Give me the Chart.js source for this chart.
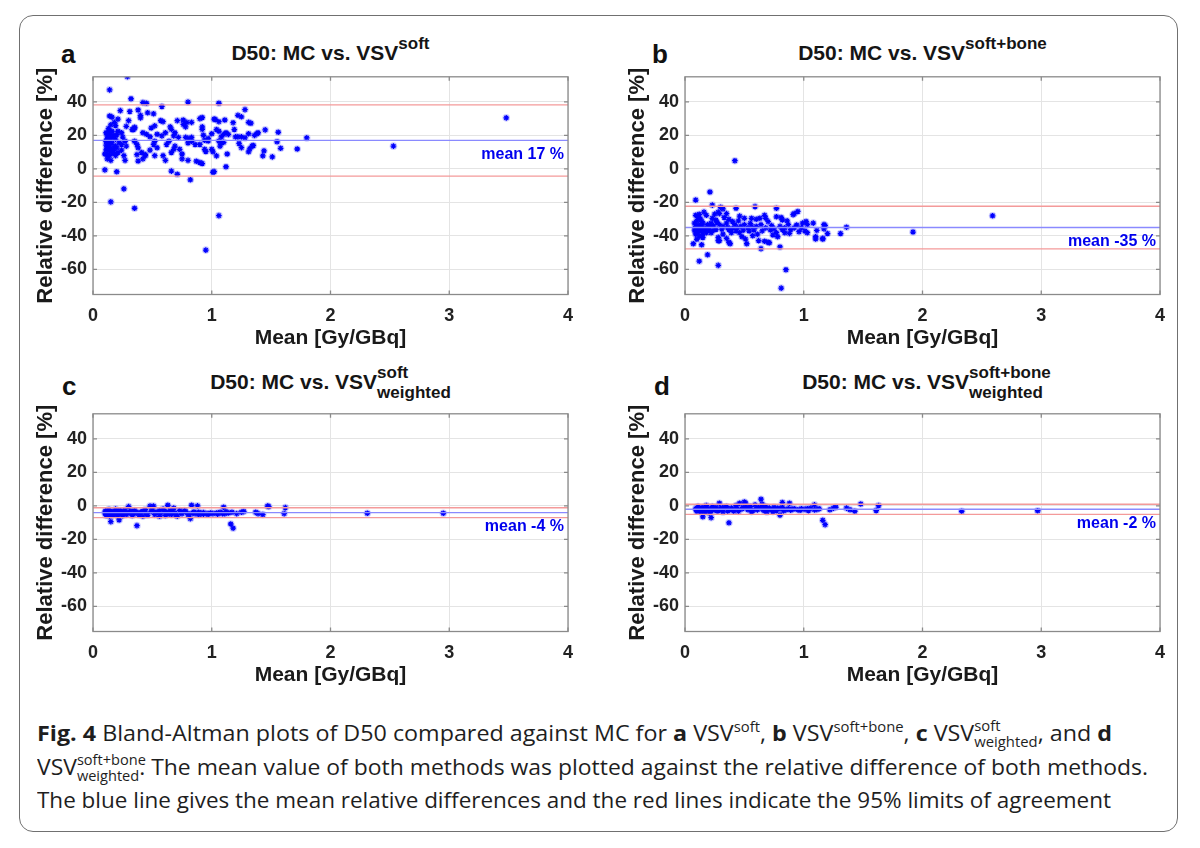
<!DOCTYPE html>
<html>
<head>
<meta charset="utf-8">
<script src="https://cdn.jsdelivr.net/npm/chart.js@4.4.1/dist/chart.umd.min.js"></script>
<style>
body{margin:0;background:#fff;width:1200px;height:848px;position:relative;overflow:hidden;font-family:"Liberation Sans",Arial,sans-serif}
.frame{position:absolute;left:19px;top:15px;width:1157px;height:815px;border:1.5px solid #707070;border-radius:14px}
canvas{position:absolute}
.ttl{position:absolute;width:475px;text-align:center;font-weight:bold;font-size:21px;line-height:24px;white-space:nowrap;color:#151515}
.ttl .sp{font-size:17px;position:relative;top:-11px}
.ttl .st{display:inline-block;position:relative;text-align:left}
.ttl .st .w{font-size:17px;position:relative;top:9px}
.ttl .st .s{font-size:17px;position:absolute;left:0;top:-9.5px}
.lt{position:absolute;font-weight:bold;font-size:26px;line-height:30px;color:#111}
.cl{position:absolute;left:37px;white-space:nowrap;font-family:"Open Sans",sans-serif;font-size:22px;line-height:30px;color:#1e1e1e;transform-origin:0 0}
.cl sup{font-size:14px;vertical-align:0;position:relative;top:-9px}
.cl .st{display:inline-block;position:relative}
.cl .st .w{font-size:14px;position:relative;top:6px}
.cl .st .s{font-size:14px;position:absolute;left:0;top:-6px}
</style>
</head>
<body>
<div class="frame"></div>

<div class="lt" style="left:61px;top:39px">a</div>
<div class="lt" style="left:652px;top:39px">b</div>
<div class="lt" style="left:62px;top:371px">c</div>
<div class="lt" style="left:654px;top:371px">d</div>

<div class="ttl" style="left:93px;top:41px">D50: MC vs. VSV<span class="sp">soft</span></div>
<div class="ttl" style="left:685px;top:41px">D50: MC vs. VSV<span class="sp">soft+bone</span></div>
<div class="ttl" style="left:93px;top:370px">D50: MC vs. VSV<span class="st"><span class="s">soft</span><span class="w">weighted</span></span></div>
<div class="ttl" style="left:685px;top:370px">D50: MC vs. VSV<span class="st"><span class="s">soft+bone</span><span class="w">weighted</span></span></div>

<canvas id="cA" width="570" height="300" style="left:20px;top:60px"></canvas>
<canvas id="cB" width="570" height="300" style="left:612px;top:60px"></canvas>
<canvas id="cC" width="570" height="300" style="left:20px;top:397px"></canvas>
<canvas id="cD" width="570" height="300" style="left:612px;top:397px"></canvas>

<div class="cl" data-w="1075" style="top:717px"><b>Fig. 4</b> Bland-Altman plots of D50 compared against MC for <b>a</b> VSV<sup>soft</sup>, <b>b</b> VSV<sup>soft+bone</sup>, <b>c</b> VSV<span class="st"><span class="s">soft</span><span class="w">weighted</span></span>, and <b>d</b></div>
<div class="cl" data-w="1111" style="top:751px">VSV<span class="st"><span class="s">soft+bone</span><span class="w">weighted</span></span>. The mean value of both methods was plotted against the relative difference of both methods.</div>
<div class="cl" data-w="1074" style="top:784px">The blue line gives the mean relative differences and the red lines indicate the 95% limits of agreement</div>

<script>
// axes
const xTicks = [0, 1, 2, 3, 4];
const yTicks = [-60, -40, -20, 0, 20, 40];
const yMin = -75, yMax = 55;

// mean and 95% limits of agreement per panel
const meanA = 17, loaA = [-4.3, 38.2];
const meanB = -35, loaB = [-47.7, -22.3];
const meanC = -4, loaC = [-7.0, -1.1];
const meanD = -2, loaD = [-5.1, 1.0];

// a: VSV soft  [mean Gy/GBq, relative difference %]
const ptsA = [
  [0.29,55.1],[0.14,47.2],[0.32,41.9],[0.42,39.6],[0.45,39.2],[0.80,39.9],[0.58,37.3],[0.23,34.8],[0.31,34.3],[0.38,35.2],
  [0.46,33.5],[0.51,32.9],[0.92,30.7],[0.90,30.0],[0.14,31.6],[0.16,30.9],[0.21,29.7],[0.40,32.0],[0.40,30.5],[0.57,28.9],
  [0.59,28.2],[0.71,28.8],[0.76,29.2],[0.79,27.8],[0.83,27.8],[0.76,26.6],[0.78,25.1],[1.02,29.7],[0.28,25.4],[0.30,28.8],
  [0.18,27.8],[0.19,25.9],[0.35,24.8],[0.34,23.5],[0.49,24.4],[0.52,25.7],[0.65,25.1],[0.66,23.6],[0.92,25.1],[0.92,23.6],
  [0.11,21.6],[0.12,19.7],[0.14,20.7],[0.16,22.5],[0.21,22.5],[0.24,21.6],[0.33,23.5],[0.35,24.4],[0.42,21.6],[0.45,20.7],
  [0.48,19.2],[0.54,20.7],[0.58,19.7],[0.61,21.6],[0.68,19.7],[0.69,21.6],[0.72,18.8],[0.78,18.8],[0.80,18.2],[0.83,18.8],
  [0.93,20.1],[0.97,18.2],[0.11,16.5],[0.13,14.6],[0.14,17.4],[0.16,15.5],[0.19,13.6],[0.12,11.7],[0.14,10.8],[0.17,9.8],
  [0.20,12.6],[0.24,14.6],[0.27,16.5],[0.28,13.6],[0.35,16.5],[0.37,14.6],[0.38,12.6],[0.41,9.8],[0.44,8.5],[0.48,11.2],
  [0.51,14.6],[0.52,16.5],[0.54,12.6],[0.62,14.6],[0.64,16.5],[0.66,9.8],[0.68,11.7],[0.69,13.6],[0.73,11.7],[0.75,8.9],
  [0.75,6.0],[0.80,15.5],[0.83,16.5],[0.86,14.6],[0.90,14.6],[0.94,11.7],[0.95,10.4],[1.00,11.7],[0.10,8.9],[0.12,6.0],
  [0.14,7.9],[0.15,5.1],[0.19,7.9],[0.21,9.8],[0.24,11.2],[0.26,7.9],[0.27,5.1],[0.37,8.5],[0.38,4.7],[0.42,6.0],
  [0.44,7.9],[0.66,-1.3],[0.71,-3.2],[0.52,7.9],[0.59,7.9],[0.61,5.1],[0.80,5.1],[0.87,4.6],[0.90,3.8],[0.92,3.2],
  [0.10,-0.6],[0.20,-1.7],[0.82,-6.5],[0.26,-11.9],[0.15,-19.7],[0.35,-23.5],[0.95,-48.5],[1.01,-2.0],
  [1.06,39.2],[1.28,35.4],[1.22,32.0],[1.25,31.1],[1.03,29.5],[1.06,28.2],[1.11,29.2],[1.18,27.6],[1.31,27.8],[1.33,27.3],
  [1.04,23.5],[1.06,22.5],[1.08,19.1],[1.10,20.6],[1.12,21.6],[1.14,20.6],[1.00,21.0],[1.19,23.5],[1.20,19.1],[1.22,19.1],
  [1.25,19.1],[1.28,18.5],[1.31,21.0],[1.36,20.0],[1.38,21.0],[1.39,21.6],[1.45,23.3],[1.56,21.9],[1.80,18.5],[0.94,17.1],
  [0.97,16.7],[1.01,10.2],[1.06,16.6],[1.07,13.6],[1.08,15.5],[1.10,15.9],[1.23,15.2],[1.25,12.7],[1.31,10.2],[1.32,12.0],
  [1.34,13.6],[1.35,14.0],[1.44,10.8],[1.43,7.8],[1.51,7.2],[1.55,16.2],[1.58,12.3],[1.72,11.9],[1.04,7.8],[1.13,8.9],
  [1.12,1.3],[1.02,-1.6],[1.06,-27.9],[2.53,13.6],[3.48,30.5],
  [0.12,18.0],[0.13,13.2],[0.14,22.8],[0.15,12.4],[0.16,18.6],[0.17,20.2],[0.12,8.6],[0.13,24.1],[0.11,14.2],[0.18,13.0],
  [0.15,26.3],[0.17,11.0],[0.13,16.1],[0.16,9.4],[0.19,17.8],[0.20,20.5],[0.22,15.6],[0.25,19.0],[0.11,11.4],[0.14,14.8]
];

// b: VSV soft+bone
const ptsB = [
  [0.42,4.9],[0.21,-13.8],[0.09,-18.6],[0.23,-21.6],[0.59,-22.5],[0.77,-23.5],[0.43,-23.5],[0.30,-22.9],[0.32,-23.9],[0.95,-25.4],
  [0.91,-27.3],[0.92,-26.7],[0.28,-25.8],[0.29,-26.7],[0.35,-26.7],[0.16,-25.8],[0.18,-27.7],[0.09,-27.7],[0.11,-29.0],[0.12,-27.1],
  [0.46,-28.2],[0.50,-29.5],[0.67,-27.7],[0.68,-29.5],[0.77,-28.6],[0.81,-29.0],[0.82,-30.5],[0.56,-29.5],[0.60,-30.1],[0.63,-29.5],
  [0.23,-29.5],[0.26,-30.5],[0.37,-30.1],[0.40,-31.4],[0.99,-32.4],[1.02,-31.4],[1.03,-33.3],[1.08,-32.4],[0.14,-31.4],[0.15,-32.4],
  [0.08,-32.4],[0.19,-33.3],[0.21,-34.3],[0.22,-32.4],[0.29,-33.3],[0.32,-34.3],[0.35,-32.4],[0.42,-33.3],[0.44,-35.2],[0.47,-34.3],
  [0.50,-33.3],[0.53,-35.2],[0.56,-34.3],[0.60,-34.3],[0.64,-33.3],[0.68,-35.2],[0.73,-33.9],[0.75,-35.8],[0.80,-34.3],[0.84,-35.2],
  [0.87,-33.3],[0.89,-36.2],[0.92,-35.2],[0.98,-35.2],[1.01,-37.1],[1.03,-38.1],[1.10,-40.5],[1.10,-41.9],[1.16,-41.9],[0.09,-34.3],
  [0.10,-36.2],[0.11,-38.1],[0.12,-35.2],[0.14,-37.1],[0.08,-36.6],[0.09,-39.0],[0.15,-39.0],[0.16,-36.2],[0.18,-38.1],[0.22,-38.1],
  [0.23,-37.1],[0.26,-36.2],[0.28,-40.9],[0.28,-42.8],[0.32,-39.0],[0.35,-41.5],[0.37,-36.2],[0.39,-38.1],[0.43,-37.1],[0.46,-38.1],
  [0.49,-36.6],[0.51,-41.9],[0.52,-44.7],[0.54,-37.1],[0.57,-39.9],[0.61,-39.0],[0.62,-42.8],[0.64,-47.6],[0.67,-43.2],[0.70,-43.8],
  [0.71,-44.1],[0.74,-39.5],[0.77,-38.1],[0.80,-46.6],[0.82,-36.2],[0.84,-38.1],[0.85,-60.2],[0.81,-71.2],[0.07,-44.7],[0.14,-45.3],
  [0.12,-55.1],[0.19,-51.3],[0.28,-57.6],[0.29,-42.8],[0.37,-43.8],[0.38,-44.7],[1.11,-36.7],[1.18,-33.9],[1.17,-33.3],[1.17,-35.8],
  [1.20,-38.6],[1.16,-41.5],[1.31,-38.6],[1.36,-34.8],[1.92,-37.7],[2.59,-28.0],
  [0.10,-31.0],[0.11,-33.5],[0.12,-40.2],[0.13,-36.0],[0.14,-34.0],[0.15,-41.0],[0.09,-37.5],[0.10,-42.0],[0.13,-29.8],[0.17,-35.5],
  [0.20,-36.5],[0.24,-34.0],[0.25,-27.0],[0.27,-32.0],[0.31,-36.0],[0.33,-29.0],[0.36,-35.0],[0.40,-35.5],[0.45,-31.0],[0.48,-40.5],
  [0.55,-32.5],[0.58,-36.5],[0.65,-37.0],[0.70,-31.5],[0.72,-36.5],[0.78,-40.5],[0.86,-31.0],[0.88,-38.5],[0.94,-33.5],[0.96,-37.5]
];

// c: VSV soft, weighted
const ptsC = [
  [1.47,-0.1],[1.48,-0.4],[1.62,-1.0],[1.61,-4.6],[1.16,-10.8],[1.18,-13.3],[0.37,-11.8],[0.15,-9.4],[0.22,-8.4],[0.63,0.4],
  [0.83,0.4],[0.88,0.0],[1.10,-0.8],[1.37,-3.8],[1.39,-4.6],[1.43,-5.2],[1.25,-3.8],[1.27,-3.3],[1.21,-4.6],
  [0.10,-4.2],[0.11,-5.7],[0.12,-2.7],[0.13,-4.6],[0.14,-6.1],[0.16,-3.3],[0.17,-5.2],[0.19,-1.9],[0.20,-3.8],[0.21,-6.1],
  [0.23,-2.7],[0.24,-4.6],[0.26,-3.3],[0.28,-5.2],[0.30,-0.4],[0.31,-3.8],[0.33,-5.7],[0.35,-2.7],[0.38,-4.6],[0.40,-3.8],
  [0.42,-6.1],[0.44,-2.3],[0.45,-4.6],[0.48,-0.1],[0.49,-3.3],[0.51,-0.1],[0.52,-5.2],[0.54,-3.8],[0.56,-2.7],[0.57,-4.6],
  [0.59,-1.9],[0.61,-5.7],[0.62,-3.8],[0.65,-2.7],[0.66,-5.2],[0.68,-1.3],[0.69,-4.2],[0.71,-6.1],[0.73,-2.7],[0.75,-4.6],
  [0.78,-3.3],[0.80,-5.2],[0.82,-7.6],[0.84,-4.2],[0.86,-4.6],[0.89,-3.8],[0.91,-4.6],[0.93,-4.9],[0.96,-4.6],[0.99,-4.2],
  [1.01,-4.6],[1.04,-4.2],[1.07,-3.8],[1.09,-4.6],[1.12,-3.4],[1.14,-4.2],[1.17,-3.8],
  [0.105,-3.0],[0.12,-5.0],[0.135,-2.2],[0.15,-4.0],[0.165,-5.5],[0.18,-3.5],[0.195,-5.2],[0.21,-2.9],[0.23,-4.5],[0.25,-5.8],
  [0.27,-2.5],[0.29,-4.4],[0.32,-3.0],[0.34,-5.0],[0.36,-3.6],[0.39,-5.4],[0.42,-3.2],[0.46,-5.6],[0.50,-2.6],[0.53,-4.0],
  [0.56,-6.2],[0.60,-3.0],[0.63,-4.8],[0.67,-3.4],[0.70,-5.5],[0.74,-4.0],[0.77,-2.8],[0.81,-4.9],[0.85,-3.6],[0.89,-5.2],
  [0.93,-4.0],[0.97,-5.0],[1.05,-4.9],[1.11,-4.6],
  [2.31,-4.4],[2.95,-4.4]
];

// d: VSV soft+bone, weighted
const ptsD = [
  [0.64,4.0],[1.48,1.1],[1.63,0.2],[1.61,-2.8],[1.16,-8.6],[1.18,-11.2],[0.37,-10.1],[0.15,-6.5],[0.22,-7.0],[0.82,2.0],
  [0.88,1.6],[0.50,2.3],[0.51,1.6],[0.46,1.6],[1.09,0.6],[1.39,-2.3],[1.43,-3.2],[1.36,-1.3],[1.25,-1.3],[1.27,-0.8],
  [1.22,-2.3],[0.29,1.6],[0.80,-5.5],
  [0.09,-1.7],[0.10,-3.2],[0.11,-0.4],[0.12,-2.3],[0.135,-3.6],[0.15,-0.9],[0.16,-2.8],[0.18,0.2],[0.19,-1.7],[0.205,-4.2],
  [0.23,-0.4],[0.25,-2.3],[0.26,-0.9],[0.28,-2.8],[0.30,-1.3],[0.32,-3.6],[0.35,-0.4],[0.37,-2.3],[0.39,-1.3],[0.41,-3.2],
  [0.43,0.2],[0.44,-1.7],[0.49,-0.9],[0.53,-2.3],[0.55,-0.4],[0.57,-2.8],[0.59,0.6],[0.60,-1.7],[0.62,-0.9],[0.65,1.0],
  [0.66,-2.3],[0.68,-0.4],[0.69,-3.6],[0.71,-1.3],[0.73,-2.3],[0.75,-0.9],[0.77,-2.8],[0.80,-1.7],[0.82,-0.9],[0.85,-2.3],
  [0.87,-1.7],[0.89,-2.5],[0.92,-1.7],[0.95,-2.3],[0.98,-1.7],[1.01,-2.1],[1.03,-1.7],[1.06,-1.3],[1.11,-2.1],[1.13,-1.7],
  [0.10,-2.6],[0.115,-1.2],[0.13,-3.0],[0.145,-1.9],[0.17,-3.4],[0.20,-2.0],[0.22,-3.2],[0.24,-1.4],[0.27,-3.0],[0.31,-2.2],
  [0.33,-0.8],[0.36,-3.1],[0.40,-2.0],[0.45,-3.3],[0.48,-1.8],[0.52,-0.8],[0.56,-3.4],[0.61,-2.4],[0.64,-1.2],[0.67,-3.0],
  [0.70,-2.0],[0.74,-3.4],[0.78,-1.4],[0.83,-3.0],[0.90,-2.0],[0.97,-2.6],[1.04,-2.8],[1.09,-2.4],
  [2.33,-3.2],[2.97,-2.9]
];

Chart.defaults.font.family = '"Liberation Sans", Arial, sans-serif';
Chart.defaults.color = '#222';

const boxPlugin = {
  id: 'box',
  afterDatasetsDraw(chart, args, opts) {
    const { ctx, chartArea: a, scales: { x, y } } = chart;
    ctx.save();
    ctx.strokeStyle = '#8a8a8a';
    ctx.lineWidth = 1.3;
    ctx.strokeRect(a.left, a.top, a.right - a.left, a.bottom - a.top);
    ctx.beginPath();
    yTicks.forEach(v => {
      const p = y.getPixelForValue(v);
      ctx.moveTo(a.left, p); ctx.lineTo(a.left + 4, p);
      ctx.moveTo(a.right, p); ctx.lineTo(a.right - 4, p);
    });
    xTicks.forEach(v => {
      const p = x.getPixelForValue(v);
      ctx.moveTo(p, a.bottom); ctx.lineTo(p, a.bottom - 4);
      ctx.moveTo(p, a.top); ctx.lineTo(p, a.top + 4);
    });
    ctx.stroke();
    // label under the mean line
    ctx.fillStyle = '#0000ee';
    ctx.font = 'bold 16px "Liberation Sans", Arial, sans-serif';
    ctx.textAlign = 'right';
    ctx.textBaseline = 'alphabetic';
    ctx.fillText(opts.label, a.right - 4, y.getPixelForValue(opts.mean) + 18.5);
    ctx.restore();
  }
};

function hline(v, color, order) {
  return { type: 'line', data: [{ x: xTicks[0], y: v }, { x: xTicks[xTicks.length - 1], y: v }],
    borderColor: color, borderWidth: 1.3, pointRadius: 0, order: order };
}

function makePanel(id, pts, mean, loa, label) {
  const d = pts.map(p => ({ x: p[0], y: p[1] }));
  new Chart(document.getElementById(id), {
    type: 'scatter',
    data: {
      datasets: [
        hline(mean, '#8a8aff', 1),
        hline(loa[0], '#f49a9a', 1),
        hline(loa[1], '#f49a9a', 1),
        { data: d, pointStyle: 'star', pointRadius: 2.8, borderColor: '#0000ff', borderWidth: 1.3, order: 2 },
        { data: d, pointStyle: 'circle', pointRadius: 3.8, backgroundColor: 'rgba(90,90,255,0.3)', borderWidth: 0, order: 3 }
      ]
    },
    options: {
      responsive: false,
      animation: false,
      devicePixelRatio: 1,
      events: [],
      layout: { padding: { top: 6.7, right: 22, left: 0, bottom: 0 } },
      plugins: { legend: { display: false }, tooltip: { enabled: false }, box: { label: label, mean: mean } },
      scales: {
        x: {
          type: 'linear', min: xTicks[0], max: xTicks[xTicks.length - 1],
          afterBuildTicks: s => { s.ticks = xTicks.map(v => ({ value: v })); },
          afterFit: s => { s.height = 65.5; },
          grid: { color: '#e4e4e4', drawTicks: false },
          border: { display: false },
          ticks: { padding: 11, color: '#222', font: { size: 18, weight: 'bold' } },
          title: { display: true, text: 'Mean [Gy/GBq]', color: '#1a1a1a',
                   font: { size: 21, weight: 'bold' }, padding: { top: 0, bottom: 9 } }
        },
        y: {
          min: yMin, max: yMax,
          afterBuildTicks: s => { s.ticks = yTicks.map(v => ({ value: v })); },
          afterFit: s => { s.width = 73; },
          grid: { color: '#e4e4e4', drawTicks: false },
          border: { display: false },
          ticks: { padding: 6, color: '#222', font: { size: 18, weight: 'bold' } },
          title: { display: true, text: 'Relative difference [%]', color: '#1a1a1a',
                   font: { size: 22, weight: 'bold' }, padding: { top: 13, bottom: 0 } }
        }
      }
    },
    plugins: [boxPlugin]
  });
}

makePanel('cA', ptsA, meanA, loaA, 'mean 17 %');
makePanel('cB', ptsB, meanB, loaB, 'mean -35 %');
makePanel('cC', ptsC, meanC, loaC, 'mean -4 %');
makePanel('cD', ptsD, meanD, loaD, 'mean -2 %');

// squeeze caption lines to the measured widths of the figure text
document.querySelectorAll('.cl').forEach(el => {
  const w = el.getBoundingClientRect().width;
  el.style.transform = 'scaleX(' + (+el.dataset.w / w) + ')';
});
</script>
</body>
</html>
